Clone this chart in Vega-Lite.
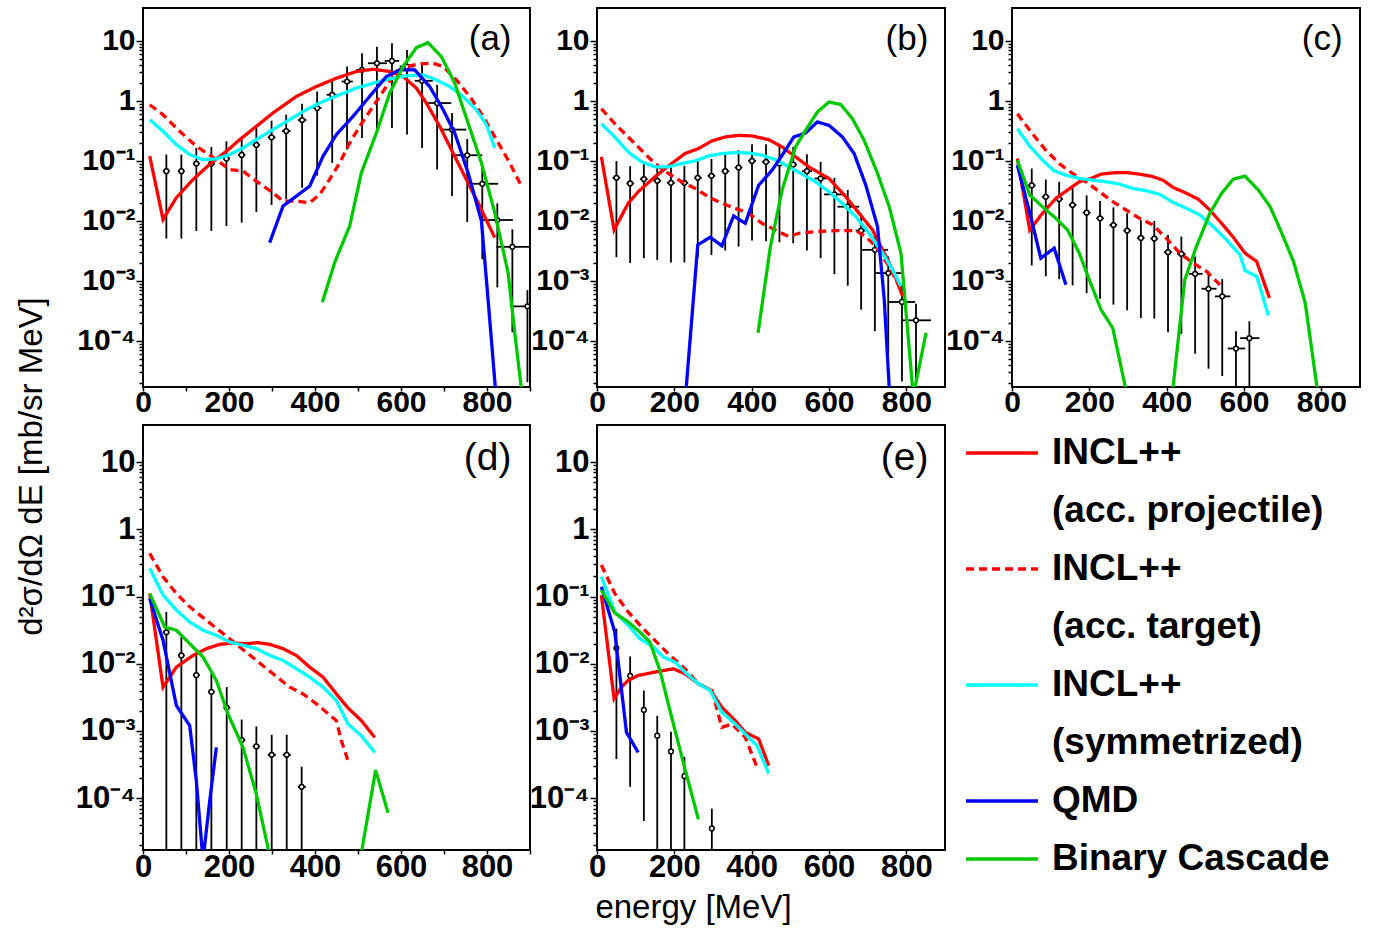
{
"$schema": "https://vega.github.io/schema/vega-lite/v6.json",
"background": "white",
"padding": {"left": 14, "top": 7, "right": 0, "bottom": 0},
"datasets": {
"curves": [
{"panel":"a","model":"INCL++ (acc. projectile)","E":15.6,"v":0.12},{"panel":"a","model":"INCL++ (acc. projectile)","E":46.6,"v":0.0106},{"panel":"a","model":"INCL++ (acc. projectile)","E":77.6,"v":0.0244},{"panel":"a","model":"INCL++ (acc. projectile)","E":116.4,"v":0.0491},{"panel":"a","model":"INCL++ (acc. projectile)","E":159,"v":0.0929},{"panel":"a","model":"INCL++ (acc. projectile)","E":194,"v":0.145},{"panel":"a","model":"INCL++ (acc. projectile)","E":225,"v":0.227},{"panel":"a","model":"INCL++ (acc. projectile)","E":263.6,"v":0.378},{"panel":"a","model":"INCL++ (acc. projectile)","E":302,"v":0.629},{"panel":"a","model":"INCL++ (acc. projectile)","E":356.7,"v":1.19},{"panel":"a","model":"INCL++ (acc. projectile)","E":403,"v":1.74},{"panel":"a","model":"INCL++ (acc. projectile)","E":450,"v":2.4},{"panel":"a","model":"INCL++ (acc. projectile)","E":496,"v":3.1},{"panel":"a","model":"INCL++ (acc. projectile)","E":535,"v":3.38},{"panel":"a","model":"INCL++ (acc. projectile)","E":573.7,"v":3.1},{"panel":"a","model":"INCL++ (acc. projectile)","E":604.7,"v":2.56},{"panel":"a","model":"INCL++ (acc. projectile)","E":635.7,"v":1.64},{"panel":"a","model":"INCL++ (acc. projectile)","E":659,"v":0.922},{"panel":"a","model":"INCL++ (acc. projectile)","E":690,"v":0.378},{"panel":"a","model":"INCL++ (acc. projectile)","E":721,"v":0.136},{"panel":"a","model":"INCL++ (acc. projectile)","E":752,"v":0.0491},{"panel":"a","model":"INCL++ (acc. projectile)","E":783,"v":0.0177},{"panel":"a","model":"INCL++ (acc. projectile)","E":818,"v":0.00527},
{"panel":"a","model":"INCL++ (acc. target)","E":15.6,"v":0.865},{"panel":"a","model":"INCL++ (acc. target)","E":46.6,"v":0.59},{"panel":"a","model":"INCL++ (acc. target)","E":85.3,"v":0.312},{"panel":"a","model":"INCL++ (acc. target)","E":124,"v":0.176},{"panel":"a","model":"INCL++ (acc. target)","E":159,"v":0.12},{"panel":"a","model":"INCL++ (acc. target)","E":201.6,"v":0.072},{"panel":"a","model":"INCL++ (acc. target)","E":232.6,"v":0.0674},{"panel":"a","model":"INCL++ (acc. target)","E":263.6,"v":0.0461},{"panel":"a","model":"INCL++ (acc. target)","E":302,"v":0.0295},{"panel":"a","model":"INCL++ (acc. target)","E":325.7,"v":0.0214},{"panel":"a","model":"INCL++ (acc. target)","E":356.7,"v":0.0214},{"panel":"a","model":"INCL++ (acc. target)","E":387.7,"v":0.0201},{"panel":"a","model":"INCL++ (acc. target)","E":411,"v":0.0277},{"panel":"a","model":"INCL++ (acc. target)","E":434,"v":0.0491},{"panel":"a","model":"INCL++ (acc. target)","E":457.4,"v":0.0929},{"panel":"a","model":"INCL++ (acc. target)","E":480.7,"v":0.1995},{"panel":"a","model":"INCL++ (acc. target)","E":504,"v":0.378},{"panel":"a","model":"INCL++ (acc. target)","E":535,"v":0.811},{"panel":"a","model":"INCL++ (acc. target)","E":566,"v":1.74},{"panel":"a","model":"INCL++ (acc. target)","E":589,"v":3.1},{"panel":"a","model":"INCL++ (acc. target)","E":612.5,"v":3.75},{"panel":"a","model":"INCL++ (acc. target)","E":643.5,"v":4.15},{"panel":"a","model":"INCL++ (acc. target)","E":674.5,"v":4.26},{"panel":"a","model":"INCL++ (acc. target)","E":698,"v":3.75},{"panel":"a","model":"INCL++ (acc. target)","E":728.8,"v":2.25},{"panel":"a","model":"INCL++ (acc. target)","E":759.8,"v":1.19},{"panel":"a","model":"INCL++ (acc. target)","E":790.8,"v":0.553},{"panel":"a","model":"INCL++ (acc. target)","E":821.8,"v":0.227},{"panel":"a","model":"INCL++ (acc. target)","E":852.8,"v":0.0929},{"panel":"a","model":"INCL++ (acc. target)","E":880,"v":0.038},
{"panel":"a","model":"INCL++ (symmetrized)","E":15.6,"v":0.488},{"panel":"a","model":"INCL++ (symmetrized)","E":46.6,"v":0.312},{"panel":"a","model":"INCL++ (symmetrized)","E":77.6,"v":0.187},{"panel":"a","model":"INCL++ (symmetrized)","E":108.6,"v":0.128},{"panel":"a","model":"INCL++ (symmetrized)","E":139.6,"v":0.105},{"panel":"a","model":"INCL++ (symmetrized)","E":170.6,"v":0.108},{"panel":"a","model":"INCL++ (symmetrized)","E":201.6,"v":0.128},{"panel":"a","model":"INCL++ (symmetrized)","E":232.6,"v":0.165},{"panel":"a","model":"INCL++ (symmetrized)","E":263.6,"v":0.227},{"panel":"a","model":"INCL++ (symmetrized)","E":302,"v":0.333},{"panel":"a","model":"INCL++ (symmetrized)","E":341,"v":0.488},{"panel":"a","model":"INCL++ (symmetrized)","E":380,"v":0.715},{"panel":"a","model":"INCL++ (symmetrized)","E":418.7,"v":0.982},{"panel":"a","model":"INCL++ (symmetrized)","E":457.4,"v":1.27},{"panel":"a","model":"INCL++ (symmetrized)","E":496,"v":1.64},{"panel":"a","model":"INCL++ (symmetrized)","E":535,"v":1.98},{"panel":"a","model":"INCL++ (symmetrized)","E":573.7,"v":2.34},{"panel":"a","model":"INCL++ (symmetrized)","E":612.5,"v":2.62},{"panel":"a","model":"INCL++ (symmetrized)","E":651.2,"v":2.72},{"panel":"a","model":"INCL++ (symmetrized)","E":682,"v":2.25},{"panel":"a","model":"INCL++ (symmetrized)","E":713,"v":1.74},{"panel":"a","model":"INCL++ (symmetrized)","E":744,"v":1.19},{"panel":"a","model":"INCL++ (symmetrized)","E":775,"v":0.715},{"panel":"a","model":"INCL++ (symmetrized)","E":798.5,"v":0.403},{"panel":"a","model":"INCL++ (symmetrized)","E":818,"v":0.165},
{"panel":"a","model":"QMD","E":294.6,"v":0.00435},{"panel":"a","model":"QMD","E":325.7,"v":0.0177},{"panel":"a","model":"QMD","E":356.7,"v":0.0259},{"panel":"a","model":"QMD","E":387.7,"v":0.038},{"panel":"a","model":"QMD","E":418.7,"v":0.12},{"panel":"a","model":"QMD","E":449.7,"v":0.275},{"panel":"a","model":"QMD","E":488.4,"v":0.553},{"panel":"a","model":"QMD","E":527,"v":1.19},{"panel":"a","model":"QMD","E":566,"v":2.56},{"panel":"a","model":"QMD","E":597,"v":3.3},{"panel":"a","model":"QMD","E":631.9,"v":3.3},{"panel":"a","model":"QMD","E":666.7,"v":1.74},{"panel":"a","model":"QMD","E":698,"v":0.715},{"panel":"a","model":"QMD","E":725,"v":0.292},{"panel":"a","model":"QMD","E":756,"v":0.0634},{"panel":"a","model":"QMD","E":787,"v":0.00998},{"panel":"a","model":"QMD","E":802.4,"v":0.000499},{"panel":"a","model":"QMD","E":821,"v":0.000012},
{"panel":"a","model":"Binary Cascade","E":417,"v":0.000439},{"panel":"a","model":"Binary Cascade","E":445.8,"v":0.00203},{"panel":"a","model":"Binary Cascade","E":480.7,"v":0.00824},{"panel":"a","model":"Binary Cascade","E":507.8,"v":0.0634},{"panel":"a","model":"Binary Cascade","E":542.7,"v":0.292},{"panel":"a","model":"Binary Cascade","E":573.7,"v":1.35},{"panel":"a","model":"Binary Cascade","E":604.7,"v":3.75},{"panel":"a","model":"Binary Cascade","E":635.7,"v":7.74},{"panel":"a","model":"Binary Cascade","E":662.9,"v":9.38},{"panel":"a","model":"Binary Cascade","E":693.9,"v":5.5},{"panel":"a","model":"Binary Cascade","E":725,"v":1.98},{"panel":"a","model":"Binary Cascade","E":756,"v":0.429},{"panel":"a","model":"Binary Cascade","E":787,"v":0.0929},{"panel":"a","model":"Binary Cascade","E":818,"v":0.0137},{"panel":"a","model":"Binary Cascade","E":849,"v":0.00138},{"panel":"a","model":"Binary Cascade","E":864.4,"v":0.000139},{"panel":"a","model":"Binary Cascade","E":882,"v":0.000012},

{"panel":"b","model":"INCL++ (acc. projectile)","E":11.3,"v":0.117},{"panel":"b","model":"INCL++ (acc. projectile)","E":44.2,"v":0.00706},{"panel":"b","model":"INCL++ (acc. projectile)","E":80.5,"v":0.0196},{"panel":"b","model":"INCL++ (acc. projectile)","E":106.5,"v":0.0306},{"panel":"b","model":"INCL++ (acc. projectile)","E":149.8,"v":0.0543},{"panel":"b","model":"INCL++ (acc. projectile)","E":193.1,"v":0.0906},{"panel":"b","model":"INCL++ (acc. projectile)","E":227.7,"v":0.1328},{"panel":"b","model":"INCL++ (acc. projectile)","E":262.3,"v":0.1607},{"panel":"b","model":"INCL++ (acc. projectile)","E":297,"v":0.2155},{"panel":"b","model":"INCL++ (acc. projectile)","E":331.6,"v":0.251},{"panel":"b","model":"INCL++ (acc. projectile)","E":366.2,"v":0.267},{"panel":"b","model":"INCL++ (acc. projectile)","E":400.9,"v":0.261},{"panel":"b","model":"INCL++ (acc. projectile)","E":444.2,"v":0.2265},{"panel":"b","model":"INCL++ (acc. projectile)","E":478.8,"v":0.1713},{"panel":"b","model":"INCL++ (acc. projectile)","E":513.4,"v":0.117},{"panel":"b","model":"INCL++ (acc. projectile)","E":548,"v":0.0796},{"panel":"b","model":"INCL++ (acc. projectile)","E":600,"v":0.051},{"panel":"b","model":"INCL++ (acc. projectile)","E":643.3,"v":0.0253},{"panel":"b","model":"INCL++ (acc. projectile)","E":677.9,"v":0.01337},{"panel":"b","model":"INCL++ (acc. projectile)","E":712.6,"v":0.00706},{"panel":"b","model":"INCL++ (acc. projectile)","E":738.5,"v":0.00329},{"panel":"b","model":"INCL++ (acc. projectile)","E":764.5,"v":0.00153},{"panel":"b","model":"INCL++ (acc. projectile)","E":790.5,"v":0.000552},
{"panel":"b","model":"INCL++ (acc. target)","E":11.3,"v":0.742},{"panel":"b","model":"INCL++ (acc. target)","E":45.9,"v":0.418},{"panel":"b","model":"INCL++ (acc. target)","E":80.5,"v":0.251},{"panel":"b","model":"INCL++ (acc. target)","E":115.2,"v":0.1507},{"panel":"b","model":"INCL++ (acc. target)","E":149.8,"v":0.0906},{"panel":"b","model":"INCL++ (acc. target)","E":184.4,"v":0.0618},{"panel":"b","model":"INCL++ (acc. target)","E":219,"v":0.0449},{"panel":"b","model":"INCL++ (acc. target)","E":253.7,"v":0.0348},{"panel":"b","model":"INCL++ (acc. target)","E":288.3,"v":0.0253},{"panel":"b","model":"INCL++ (acc. target)","E":323,"v":0.0196},{"panel":"b","model":"INCL++ (acc. target)","E":357.6,"v":0.0162},{"panel":"b","model":"INCL++ (acc. target)","E":392.2,"v":0.01337},{"panel":"b","model":"INCL++ (acc. target)","E":426.8,"v":0.00912},{"panel":"b","model":"INCL++ (acc. target)","E":461.5,"v":0.00706},{"panel":"b","model":"INCL++ (acc. target)","E":496,"v":0.00548},{"panel":"b","model":"INCL++ (acc. target)","E":522,"v":0.00622},{"panel":"b","model":"INCL++ (acc. target)","E":565.4,"v":0.00664},{"panel":"b","model":"INCL++ (acc. target)","E":617.3,"v":0.00689},{"panel":"b","model":"INCL++ (acc. target)","E":669.3,"v":0.00689},{"panel":"b","model":"INCL++ (acc. target)","E":695.2,"v":0.00548},{"panel":"b","model":"INCL++ (acc. target)","E":721.2,"v":0.00374},{"panel":"b","model":"INCL++ (acc. target)","E":755.8,"v":0.00174},{"panel":"b","model":"INCL++ (acc. target)","E":786.1,"v":0.000713},
{"panel":"b","model":"INCL++ (symmetrized)","E":11.3,"v":0.418},{"panel":"b","model":"INCL++ (symmetrized)","E":45.9,"v":0.251},{"panel":"b","model":"INCL++ (symmetrized)","E":80.5,"v":0.1416},{"panel":"b","model":"INCL++ (symmetrized)","E":115.2,"v":0.0965},{"panel":"b","model":"INCL++ (symmetrized)","E":149.8,"v":0.0796},{"panel":"b","model":"INCL++ (symmetrized)","E":184.4,"v":0.0796},{"panel":"b","model":"INCL++ (symmetrized)","E":219,"v":0.0906},{"panel":"b","model":"INCL++ (symmetrized)","E":253.7,"v":0.1002},{"panel":"b","model":"INCL++ (symmetrized)","E":288.3,"v":0.1213},{"panel":"b","model":"INCL++ (symmetrized)","E":323,"v":0.1328},{"panel":"b","model":"INCL++ (symmetrized)","E":357.6,"v":0.138},{"panel":"b","model":"INCL++ (symmetrized)","E":392.2,"v":0.136},{"panel":"b","model":"INCL++ (symmetrized)","E":426.8,"v":0.1245},{"panel":"b","model":"INCL++ (symmetrized)","E":461.5,"v":0.1054},{"panel":"b","model":"INCL++ (symmetrized)","E":496,"v":0.0796},{"panel":"b","model":"INCL++ (symmetrized)","E":530.7,"v":0.0602},{"panel":"b","model":"INCL++ (symmetrized)","E":565.4,"v":0.0449},{"panel":"b","model":"INCL++ (symmetrized)","E":600,"v":0.0306},{"panel":"b","model":"INCL++ (symmetrized)","E":634.6,"v":0.0196},{"panel":"b","model":"INCL++ (symmetrized)","E":669.3,"v":0.01178},{"panel":"b","model":"INCL++ (symmetrized)","E":703.9,"v":0.00622},{"panel":"b","model":"INCL++ (symmetrized)","E":738.5,"v":0.0029},{"panel":"b","model":"INCL++ (symmetrized)","E":764.5,"v":0.00153},{"panel":"b","model":"INCL++ (symmetrized)","E":786.1,"v":0.00081},
{"panel":"b","model":"QMD","E":229,"v":0.000012},{"panel":"b","model":"QMD","E":260.6,"v":0.00398},{"panel":"b","model":"QMD","E":292.6,"v":0.00534},{"panel":"b","model":"QMD","E":323,"v":0.00384},{"panel":"b","model":"QMD","E":353.2,"v":0.0121},{"panel":"b","model":"QMD","E":383.5,"v":0.00912},{"panel":"b","model":"QMD","E":418.2,"v":0.0395},{"panel":"b","model":"QMD","E":452.8,"v":0.0701},{"panel":"b","model":"QMD","E":478.8,"v":0.1245},{"panel":"b","model":"QMD","E":509,"v":0.251},{"panel":"b","model":"QMD","E":539.4,"v":0.292},{"panel":"b","model":"QMD","E":569.7,"v":0.446},{"panel":"b","model":"QMD","E":600,"v":0.393},{"panel":"b","model":"QMD","E":634.6,"v":0.251},{"panel":"b","model":"QMD","E":665,"v":0.1328},{"panel":"b","model":"QMD","E":695.2,"v":0.0395},{"panel":"b","model":"QMD","E":725.5,"v":0.00804},{"panel":"b","model":"QMD","E":742.9,"v":0.000486},{"panel":"b","model":"QMD","E":757,"v":0.000012},
{"panel":"b","model":"Binary Cascade","E":416.5,"v":0.000136},{"panel":"b","model":"Binary Cascade","E":448.5,"v":0.00374},{"panel":"b","model":"Binary Cascade","E":478.8,"v":0.0327},{"panel":"b","model":"Binary Cascade","E":513.4,"v":0.1713},{"panel":"b","model":"Binary Cascade","E":539.4,"v":0.3236},{"panel":"b","model":"Binary Cascade","E":569.7,"v":0.653},{"panel":"b","model":"Binary Cascade","E":600,"v":0.958},{"panel":"b","model":"Binary Cascade","E":630.3,"v":0.876},{"panel":"b","model":"Binary Cascade","E":660.6,"v":0.506},{"panel":"b","model":"Binary Cascade","E":690.9,"v":0.221},{"panel":"b","model":"Binary Cascade","E":725.5,"v":0.0618},{"panel":"b","model":"Binary Cascade","E":755.8,"v":0.01725},{"panel":"b","model":"Binary Cascade","E":786.1,"v":0.0029},{"panel":"b","model":"Binary Cascade","E":818,"v":0.000012},{"panel":"b","model":"Binary Cascade","E":851,"v":0.000136},

{"panel":"c","model":"INCL++ (acc. projectile)","E":13.9,"v":0.1096},{"panel":"c","model":"INCL++ (acc. projectile)","E":45.9,"v":0.00706},{"panel":"c","model":"INCL++ (acc. projectile)","E":78.8,"v":0.01337},{"panel":"c","model":"INCL++ (acc. projectile)","E":113.4,"v":0.0237},{"panel":"c","model":"INCL++ (acc. projectile)","E":143.7,"v":0.0327},{"panel":"c","model":"INCL++ (acc. projectile)","E":174,"v":0.0449},{"panel":"c","model":"INCL++ (acc. projectile)","E":204.3,"v":0.051},{"panel":"c","model":"INCL++ (acc. projectile)","E":230.3,"v":0.0602},{"panel":"c","model":"INCL++ (acc. projectile)","E":260.6,"v":0.0634},{"panel":"c","model":"INCL++ (acc. projectile)","E":295.2,"v":0.0642},{"panel":"c","model":"INCL++ (acc. projectile)","E":329.9,"v":0.0602},{"panel":"c","model":"INCL++ (acc. projectile)","E":360.2,"v":0.0557},{"panel":"c","model":"INCL++ (acc. projectile)","E":390.5,"v":0.0479},{"panel":"c","model":"INCL++ (acc. projectile)","E":416.5,"v":0.0362},{"panel":"c","model":"INCL++ (acc. projectile)","E":446.8,"v":0.0298},{"panel":"c","model":"INCL++ (acc. projectile)","E":481.4,"v":0.0231},{"panel":"c","model":"INCL++ (acc. projectile)","E":511.7,"v":0.0152},{"panel":"c","model":"INCL++ (acc. projectile)","E":542,"v":0.00912},{"panel":"c","model":"INCL++ (acc. projectile)","E":572.3,"v":0.00534},{"panel":"c","model":"INCL++ (acc. projectile)","E":602.6,"v":0.0029},{"panel":"c","model":"INCL++ (acc. projectile)","E":632.9,"v":0.0021},{"panel":"c","model":"INCL++ (acc. projectile)","E":665.8,"v":0.000518},
{"panel":"c","model":"INCL++ (acc. target)","E":13.9,"v":0.612},{"panel":"c","model":"INCL++ (acc. target)","E":52.8,"v":0.285},{"panel":"c","model":"INCL++ (acc. target)","E":87.4,"v":0.1507},{"panel":"c","model":"INCL++ (acc. target)","E":122,"v":0.0906},{"panel":"c","model":"INCL++ (acc. target)","E":156.7,"v":0.0618},{"panel":"c","model":"INCL++ (acc. target)","E":191.3,"v":0.0449},{"panel":"c","model":"INCL++ (acc. target)","E":226,"v":0.0306},{"panel":"c","model":"INCL++ (acc. target)","E":260.6,"v":0.0209},{"panel":"c","model":"INCL++ (acc. target)","E":295.2,"v":0.0152},{"panel":"c","model":"INCL++ (acc. target)","E":329.9,"v":0.01104},{"panel":"c","model":"INCL++ (acc. target)","E":364.5,"v":0.00855},{"panel":"c","model":"INCL++ (acc. target)","E":399.1,"v":0.00514},{"panel":"c","model":"INCL++ (acc. target)","E":433.8,"v":0.0029},{"panel":"c","model":"INCL++ (acc. target)","E":468.4,"v":0.00198},{"panel":"c","model":"INCL++ (acc. target)","E":503,"v":0.00144},{"panel":"c","model":"INCL++ (acc. target)","E":537.7,"v":0.000863},
{"panel":"c","model":"INCL++ (symmetrized)","E":13.9,"v":0.345},{"panel":"c","model":"INCL++ (symmetrized)","E":44.2,"v":0.1824},{"panel":"c","model":"INCL++ (symmetrized)","E":78.8,"v":0.1028},{"panel":"c","model":"INCL++ (symmetrized)","E":109.1,"v":0.0684},{"panel":"c","model":"INCL++ (symmetrized)","E":139.4,"v":0.0579},{"panel":"c","model":"INCL++ (symmetrized)","E":174,"v":0.051},{"panel":"c","model":"INCL++ (symmetrized)","E":208.7,"v":0.0479},{"panel":"c","model":"INCL++ (symmetrized)","E":243.3,"v":0.0449},{"panel":"c","model":"INCL++ (symmetrized)","E":277.9,"v":0.0411},{"panel":"c","model":"INCL++ (symmetrized)","E":312.6,"v":0.0348},{"panel":"c","model":"INCL++ (symmetrized)","E":347.2,"v":0.0318},{"panel":"c","model":"INCL++ (symmetrized)","E":381.8,"v":0.0277},{"panel":"c","model":"INCL++ (symmetrized)","E":416.5,"v":0.0204},{"panel":"c","model":"INCL++ (symmetrized)","E":451.1,"v":0.0162},{"panel":"c","model":"INCL++ (symmetrized)","E":485.7,"v":0.01256},{"panel":"c","model":"INCL++ (symmetrized)","E":520.3,"v":0.00804},{"panel":"c","model":"INCL++ (symmetrized)","E":555,"v":0.00482},{"panel":"c","model":"INCL++ (symmetrized)","E":589.6,"v":0.00272},{"panel":"c","model":"INCL++ (symmetrized)","E":602.6,"v":0.00149},{"panel":"c","model":"INCL++ (symmetrized)","E":632.9,"v":0.00119},{"panel":"c","model":"INCL++ (symmetrized)","E":663.2,"v":0.000264},
{"panel":"c","model":"QMD","E":13.9,"v":0.0849},{"panel":"c","model":"QMD","E":48.5,"v":0.01178},{"panel":"c","model":"QMD","E":74.5,"v":0.00239},{"panel":"c","model":"QMD","E":109.1,"v":0.00351},{"panel":"c","model":"QMD","E":139.4,"v":0.000863},
{"panel":"c","model":"Binary Cascade","E":13.9,"v":0.1028},{"panel":"c","model":"Binary Cascade","E":45.9,"v":0.027},{"panel":"c","model":"Binary Cascade","E":78.8,"v":0.01725},{"panel":"c","model":"Binary Cascade","E":113.4,"v":0.01104},{"panel":"c","model":"Binary Cascade","E":143.7,"v":0.00706},{"panel":"c","model":"Binary Cascade","E":174,"v":0.0029},{"panel":"c","model":"Binary Cascade","E":200,"v":0.00104},{"panel":"c","model":"Binary Cascade","E":230.3,"v":0.000331},{"panel":"c","model":"Binary Cascade","E":260.6,"v":0.000164},{"panel":"c","model":"Binary Cascade","E":298,"v":0.000012},{"panel":"c","model":"Binary Cascade","E":414,"v":0.000012},{"panel":"c","model":"Binary Cascade","E":446.8,"v":0.00104},{"panel":"c","model":"Binary Cascade","E":477,"v":0.00374},{"panel":"c","model":"Binary Cascade","E":511.7,"v":0.01337},{"panel":"c","model":"Binary Cascade","E":542,"v":0.0288},{"panel":"c","model":"Binary Cascade","E":572.3,"v":0.0498},{"panel":"c","model":"Binary Cascade","E":602.6,"v":0.0557},{"panel":"c","model":"Binary Cascade","E":637.2,"v":0.0327},{"panel":"c","model":"Binary Cascade","E":667.5,"v":0.01725},{"panel":"c","model":"Binary Cascade","E":697.8,"v":0.00622},{"panel":"c","model":"Binary Cascade","E":728.1,"v":0.0021},{"panel":"c","model":"Binary Cascade","E":758.4,"v":0.000428},{"panel":"c","model":"Binary Cascade","E":792,"v":0.000012},

{"panel":"d","model":"INCL++ (acc. projectile)","E":15.6,"v":0.111},{"panel":"d","model":"INCL++ (acc. projectile)","E":46.6,"v":0.00449},{"panel":"d","model":"INCL++ (acc. projectile)","E":77.6,"v":0.00891},{"panel":"d","model":"INCL++ (acc. projectile)","E":116.4,"v":0.0133},{"panel":"d","model":"INCL++ (acc. projectile)","E":147.4,"v":0.01675},{"panel":"d","model":"INCL++ (acc. projectile)","E":178.4,"v":0.01944},{"panel":"d","model":"INCL++ (acc. projectile)","E":209.4,"v":0.0203},{"panel":"d","model":"INCL++ (acc. projectile)","E":240.4,"v":0.0199},{"panel":"d","model":"INCL++ (acc. projectile)","E":267.5,"v":0.0206},{"panel":"d","model":"INCL++ (acc. projectile)","E":294.6,"v":0.01944},{"panel":"d","model":"INCL++ (acc. projectile)","E":325.7,"v":0.01675},{"panel":"d","model":"INCL++ (acc. projectile)","E":356.7,"v":0.0133},{"panel":"d","model":"INCL++ (acc. projectile)","E":387.7,"v":0.00891},{"panel":"d","model":"INCL++ (acc. projectile)","E":418.7,"v":0.00632},{"panel":"d","model":"INCL++ (acc. projectile)","E":449.7,"v":0.00356},{"panel":"d","model":"INCL++ (acc. projectile)","E":476.8,"v":0.0022},{"panel":"d","model":"INCL++ (acc. projectile)","E":507.8,"v":0.00143},{"panel":"d","model":"INCL++ (acc. projectile)","E":538.8,"v":0.000803},
{"panel":"d","model":"INCL++ (acc. target)","E":15.6,"v":0.438},{"panel":"d","model":"INCL++ (acc. target)","E":46.6,"v":0.1968},{"panel":"d","model":"INCL++ (acc. target)","E":77.6,"v":0.111},{"panel":"d","model":"INCL++ (acc. target)","E":108.6,"v":0.0701},{"panel":"d","model":"INCL++ (acc. target)","E":147.4,"v":0.0444},{"panel":"d","model":"INCL++ (acc. target)","E":186.1,"v":0.0281},{"panel":"d","model":"INCL++ (acc. target)","E":224.9,"v":0.01775},{"panel":"d","model":"INCL++ (acc. target)","E":263.6,"v":0.01122},{"panel":"d","model":"INCL++ (acc. target)","E":302.4,"v":0.0071},{"panel":"d","model":"INCL++ (acc. target)","E":341.1,"v":0.00449},{"panel":"d","model":"INCL++ (acc. target)","E":372.1,"v":0.00356},{"panel":"d","model":"INCL++ (acc. target)","E":403.2,"v":0.00253},{"panel":"d","model":"INCL++ (acc. target)","E":426.4,"v":0.0019},{"panel":"d","model":"INCL++ (acc. target)","E":449.7,"v":0.00143},{"panel":"d","model":"INCL++ (acc. target)","E":461.3,"v":0.000718},{"panel":"d","model":"INCL++ (acc. target)","E":476.8,"v":0.00036},
{"panel":"d","model":"INCL++ (symmetrized)","E":15.6,"v":0.262},{"panel":"d","model":"INCL++ (symmetrized)","E":46.6,"v":0.1047},{"panel":"d","model":"INCL++ (symmetrized)","E":77.6,"v":0.0625},{"panel":"d","model":"INCL++ (symmetrized)","E":108.6,"v":0.0419},{"panel":"d","model":"INCL++ (symmetrized)","E":139.6,"v":0.0315},{"panel":"d","model":"INCL++ (symmetrized)","E":170.6,"v":0.0265},{"panel":"d","model":"INCL++ (symmetrized)","E":201.6,"v":0.02106},{"panel":"d","model":"INCL++ (symmetrized)","E":232.6,"v":0.0188},{"panel":"d","model":"INCL++ (symmetrized)","E":263.6,"v":0.01675},{"panel":"d","model":"INCL++ (symmetrized)","E":294.6,"v":0.0133},{"panel":"d","model":"INCL++ (symmetrized)","E":325.7,"v":0.01122},{"panel":"d","model":"INCL++ (symmetrized)","E":356.7,"v":0.00841},{"panel":"d","model":"INCL++ (symmetrized)","E":387.7,"v":0.00632},{"panel":"d","model":"INCL++ (symmetrized)","E":418.7,"v":0.00449},{"panel":"d","model":"INCL++ (symmetrized)","E":449.7,"v":0.00284},{"panel":"d","model":"INCL++ (symmetrized)","E":476.8,"v":0.00127},{"panel":"d","model":"INCL++ (symmetrized)","E":507.8,"v":0.000851},{"panel":"d","model":"INCL++ (symmetrized)","E":538.8,"v":0.00048},
{"panel":"d","model":"QMD","E":15.6,"v":0.0933},{"panel":"d","model":"QMD","E":46.6,"v":0.0223},{"panel":"d","model":"QMD","E":77.6,"v":0.00239},{"panel":"d","model":"QMD","E":108.6,"v":0.0012},{"panel":"d","model":"QMD","E":124,"v":0.000182},{"panel":"d","model":"QMD","E":139.6,"v":0.000012},{"panel":"d","model":"QMD","E":155.1,"v":0.000091},{"panel":"d","model":"QMD","E":170.6,"v":0.00057},
{"panel":"d","model":"Binary Cascade","E":15.6,"v":0.111},{"panel":"d","model":"Binary Cascade","E":50.5,"v":0.0352},{"panel":"d","model":"Binary Cascade","E":77.6,"v":0.0315},{"panel":"d","model":"Binary Cascade","E":108.6,"v":0.0199},{"panel":"d","model":"Binary Cascade","E":139.6,"v":0.0126},{"panel":"d","model":"Binary Cascade","E":170.6,"v":0.00564},{"panel":"d","model":"Binary Cascade","E":197.7,"v":0.00179},{"panel":"d","model":"Binary Cascade","E":232.6,"v":0.00057},{"panel":"d","model":"Binary Cascade","E":263.6,"v":0.000115},{"panel":"d","model":"Binary Cascade","E":297,"v":0.000012},{"panel":"d","model":"Binary Cascade","E":505,"v":0.000012},{"panel":"d","model":"Binary Cascade","E":541,"v":0.000262},{"panel":"d","model":"Binary Cascade","E":569.8,"v":0.000061},

{"panel":"e","model":"INCL++ (acc. projectile)","E":11.3,"v":0.1047},{"panel":"e","model":"INCL++ (acc. projectile)","E":44.2,"v":0.00301},{"panel":"e","model":"INCL++ (acc. projectile)","E":63.2,"v":0.00449},{"panel":"e","model":"INCL++ (acc. projectile)","E":80.5,"v":0.00564},{"panel":"e","model":"INCL++ (acc. projectile)","E":106.5,"v":0.0067},{"panel":"e","model":"INCL++ (acc. projectile)","E":149.8,"v":0.00752},{"panel":"e","model":"INCL++ (acc. projectile)","E":197.4,"v":0.00841},{"panel":"e","model":"INCL++ (acc. projectile)","E":227.7,"v":0.0071},{"panel":"e","model":"INCL++ (acc. projectile)","E":262.3,"v":0.00503},{"panel":"e","model":"INCL++ (acc. projectile)","E":292.6,"v":0.00409},{"panel":"e","model":"INCL++ (acc. projectile)","E":323,"v":0.00225},{"panel":"e","model":"INCL++ (acc. projectile)","E":357.6,"v":0.00143},{"panel":"e","model":"INCL++ (acc. projectile)","E":383.5,"v":0.000955},{"panel":"e","model":"INCL++ (acc. projectile)","E":418.2,"v":0.00076},{"panel":"e","model":"INCL++ (acc. projectile)","E":444.2,"v":0.000304},
{"panel":"e","model":"INCL++ (acc. target)","E":11.3,"v":0.294},{"panel":"e","model":"INCL++ (acc. target)","E":45.9,"v":0.111},{"panel":"e","model":"INCL++ (acc. target)","E":80.5,"v":0.059},{"panel":"e","model":"INCL++ (acc. target)","E":115.2,"v":0.0352},{"panel":"e","model":"INCL++ (acc. target)","E":149.8,"v":0.0223},{"panel":"e","model":"INCL++ (acc. target)","E":184.4,"v":0.0141},{"panel":"e","model":"INCL++ (acc. target)","E":227.7,"v":0.00841},{"panel":"e","model":"INCL++ (acc. target)","E":262.3,"v":0.00503},{"panel":"e","model":"INCL++ (acc. target)","E":297,"v":0.004},{"panel":"e","model":"INCL++ (acc. target)","E":323,"v":0.00113},{"panel":"e","model":"INCL++ (acc. target)","E":349,"v":0.00127},{"panel":"e","model":"INCL++ (acc. target)","E":383.5,"v":0.000803},{"panel":"e","model":"INCL++ (acc. target)","E":413.9,"v":0.000287},
{"panel":"e","model":"INCL++ (symmetrized)","E":11.3,"v":0.1968},{"panel":"e","model":"INCL++ (symmetrized)","E":45.9,"v":0.059},{"panel":"e","model":"INCL++ (symmetrized)","E":80.5,"v":0.0373},{"panel":"e","model":"INCL++ (symmetrized)","E":110.8,"v":0.0236},{"panel":"e","model":"INCL++ (symmetrized)","E":145.5,"v":0.01775},{"panel":"e","model":"INCL++ (symmetrized)","E":171.4,"v":0.0126},{"panel":"e","model":"INCL++ (symmetrized)","E":201.7,"v":0.0106},{"panel":"e","model":"INCL++ (symmetrized)","E":232,"v":0.0071},{"panel":"e","model":"INCL++ (symmetrized)","E":262.3,"v":0.00503},{"panel":"e","model":"INCL++ (symmetrized)","E":292.6,"v":0.004},{"panel":"e","model":"INCL++ (symmetrized)","E":323,"v":0.0019},{"panel":"e","model":"INCL++ (symmetrized)","E":357.6,"v":0.00127},{"panel":"e","model":"INCL++ (symmetrized)","E":383.5,"v":0.000902},{"panel":"e","model":"INCL++ (symmetrized)","E":413.9,"v":0.000604},{"panel":"e","model":"INCL++ (symmetrized)","E":444.2,"v":0.000233},
{"panel":"e","model":"QMD","E":11.3,"v":0.1393},{"panel":"e","model":"QMD","E":45.9,"v":0.0297},{"panel":"e","model":"QMD","E":76.2,"v":0.000955},{"panel":"e","model":"QMD","E":106.5,"v":0.00048},
{"panel":"e","model":"Binary Cascade","E":11.3,"v":0.1245},{"panel":"e","model":"Binary Cascade","E":45.9,"v":0.057},{"panel":"e","model":"Binary Cascade","E":80.5,"v":0.0419},{"panel":"e","model":"Binary Cascade","E":110.8,"v":0.0297},{"panel":"e","model":"Binary Cascade","E":136.8,"v":0.02106},{"panel":"e","model":"Binary Cascade","E":162.8,"v":0.00794},{"panel":"e","model":"Binary Cascade","E":193.1,"v":0.0016},{"panel":"e","model":"Binary Cascade","E":227.7,"v":0.000271},{"panel":"e","model":"Binary Cascade","E":262.3,"v":0.0000486}
],
"points": [
{"panel":"a","E":54.3,"v":0.0674,"lo":0.00507,"hi":0.1276,"xlo":46,"xhi":62},{"panel":"a","E":89.2,"v":0.0674,"lo":0.00507,"hi":0.1276,"xlo":81,"xhi":97},{"panel":"a","E":124,"v":0.0906,"lo":0.0068,"hi":0.165,"xlo":116,"xhi":132},{"panel":"a","E":159,"v":0.0906,"lo":0.0068,"hi":0.171,"xlo":151,"xhi":167},{"panel":"a","E":194,"v":0.1096,"lo":0.00824,"hi":0.213,"xlo":186,"xhi":202},{"panel":"a","E":229.5,"v":0.126,"lo":0.00936,"hi":0.242,"xlo":221,"xhi":238},{"panel":"a","E":263.6,"v":0.185,"lo":0.01406,"hi":0.354,"xlo":255,"xhi":272},{"panel":"a","E":299,"v":0.248,"lo":0.0184,"hi":0.469,"xlo":290,"xhi":308},{"panel":"a","E":333,"v":0.315,"lo":0.0229,"hi":0.59,"xlo":323,"xhi":343},{"panel":"a","E":370,"v":0.481,"lo":0.0357,"hi":0.898,"xlo":360,"xhi":380},{"panel":"a","E":405,"v":0.762,"lo":0.0571,"hi":1.44,"xlo":395,"xhi":415},{"panel":"a","E":440,"v":1.27,"lo":0.0929,"hi":2.25,"xlo":427,"xhi":456},{"panel":"a","E":474.5,"v":2.11,"lo":0.1545,"hi":3.75,"xlo":462,"xhi":488},{"panel":"a","E":509.4,"v":3.3,"lo":0.242,"hi":6.24,"xlo":496,"xhi":523},{"panel":"a","E":544,"v":4.26,"lo":0.292,"hi":8.05,"xlo":523,"xhi":567},{"panel":"a","E":579,"v":4.66,"lo":0.354,"hi":9.15,"xlo":562,"xhi":596},{"panel":"a","E":614,"v":3.75,"lo":0.275,"hi":7.08,"xlo":597,"xhi":631},{"panel":"a","E":649,"v":2.17,"lo":0.165,"hi":3.99,"xlo":632,"xhi":674},{"panel":"a","E":684,"v":0.923,"lo":0.072,"hi":1.86,"xlo":663,"xhi":717},{"panel":"a","E":718.7,"v":0.333,"lo":0.0259,"hi":0.628,"xlo":694,"xhi":752},{"panel":"a","E":754,"v":0.1245,"lo":0.0096,"hi":0.233,"xlo":721,"xhi":789},{"panel":"a","E":789,"v":0.0416,"lo":0.0023,"hi":0.0818,"xlo":756,"xhi":826},{"panel":"a","E":824,"v":0.01035,"lo":0.000778,"hi":0.0196,"xlo":791,"xhi":860},{"panel":"a","E":859,"v":0.00369,"lo":0.000139,"hi":0.00724,"xlo":822,"xhi":900},{"panel":"a","E":894,"v":0.000377,"lo":0.0000205,"hi":0.000703,"xlo":853,"xhi":935},
{"panel":"b","E":50.2,"v":0.0524,"lo":0.00248,"hi":0.0991,"xlo":40,"xhi":60},{"panel":"b","E":85.7,"v":0.0422,"lo":0.00198,"hi":0.0818,"xlo":76,"xhi":96},{"panel":"b","E":121.2,"v":0.0498,"lo":0.00239,"hi":0.0965,"xlo":111,"xhi":131},{"panel":"b","E":155.8,"v":0.0467,"lo":0.00224,"hi":0.0906,"xlo":146,"xhi":166},{"panel":"b","E":191.3,"v":0.0432,"lo":0.00203,"hi":0.0828,"xlo":181,"xhi":201},{"panel":"b","E":226,"v":0.0432,"lo":0.00203,"hi":0.0828,"xlo":216,"xhi":236},{"panel":"b","E":260.6,"v":0.0524,"lo":0.00248,"hi":0.1002,"xlo":251,"xhi":271},{"panel":"b","E":296,"v":0.0565,"lo":0.00269,"hi":0.108,"xlo":286,"xhi":306},{"panel":"b","E":331.6,"v":0.0675,"lo":0.00321,"hi":0.1277,"xlo":322,"xhi":342},{"panel":"b","E":366.2,"v":0.0776,"lo":0.00374,"hi":0.1507,"xlo":356,"xhi":376},{"panel":"b","E":400.9,"v":0.1002,"lo":0.0047,"hi":0.19,"xlo":391,"xhi":411},{"panel":"b","E":437.2,"v":0.0965,"lo":0.00458,"hi":0.19,"xlo":427,"xhi":447},{"panel":"b","E":471.9,"v":0.0906,"lo":0.00441,"hi":0.178,"xlo":462,"xhi":482},{"panel":"b","E":507.4,"v":0.0871,"lo":0.00425,"hi":0.1713,"xlo":497,"xhi":517},{"panel":"b","E":542.9,"v":0.0675,"lo":0.00321,"hi":0.1294,"xlo":530,"xhi":556},{"panel":"b","E":578.4,"v":0.051,"lo":0.00239,"hi":0.0965,"xlo":563,"xhi":594},{"panel":"b","E":613.9,"v":0.0277,"lo":0.0013,"hi":0.0524,"xlo":587,"xhi":643},{"panel":"b","E":648.5,"v":0.01725,"lo":0.00083,"hi":0.0327,"xlo":622,"xhi":678},{"panel":"b","E":683.1,"v":0.00689,"lo":0.000331,"hi":0.01337,"xlo":669,"xhi":700},{"panel":"b","E":718.6,"v":0.00329,"lo":0.000145,"hi":0.00638,"xlo":685,"xhi":753},{"panel":"b","E":753.2,"v":0.00135,"lo":0.000063,"hi":0.00255,"xlo":719,"xhi":786},{"panel":"b","E":788.7,"v":0.000445,"lo":0.000021,"hi":0.000863,"xlo":753,"xhi":823},{"panel":"b","E":825,"v":0.00022,"lo":0.000001,"hi":0.000417,"xlo":786,"xhi":864},
{"panel":"c","E":51.1,"v":0.039,"lo":0.00181,"hi":0.0748,"xlo":41,"xhi":61},{"panel":"c","E":87.4,"v":0.0253,"lo":0.00119,"hi":0.0491,"xlo":77,"xhi":97},{"panel":"c","E":122,"v":0.0231,"lo":0.00107,"hi":0.0449,"xlo":112,"xhi":132},{"panel":"c","E":156.7,"v":0.0184,"lo":0.000841,"hi":0.0357,"xlo":147,"xhi":167},{"panel":"c","E":193,"v":0.0137,"lo":0.000627,"hi":0.0266,"xlo":183,"xhi":203},{"panel":"c","E":227.7,"v":0.01104,"lo":0.000505,"hi":0.0214,"xlo":218,"xhi":238},{"panel":"c","E":262.3,"v":0.00855,"lo":0.000402,"hi":0.01683,"xlo":252,"xhi":272},{"panel":"c","E":297.8,"v":0.00689,"lo":0.000323,"hi":0.01337,"xlo":288,"xhi":308},{"panel":"c","E":333.3,"v":0.00521,"lo":0.000241,"hi":0.01036,"xlo":323,"xhi":343},{"panel":"c","E":368,"v":0.00507,"lo":0.000235,"hi":0.00997,"xlo":358,"xhi":378},{"panel":"c","E":403.5,"v":0.00301,"lo":0.000139,"hi":0.00583,"xlo":393,"xhi":414},{"panel":"c","E":438,"v":0.00282,"lo":0.000131,"hi":0.00548,"xlo":427,"xhi":449},{"panel":"c","E":473.6,"v":0.00131,"lo":0.000061,"hi":0.00255,"xlo":458,"xhi":493},{"panel":"c","E":508.2,"v":0.00074,"lo":0.0000343,"hi":0.00144,"xlo":490,"xhi":529},{"panel":"c","E":543.7,"v":0.000552,"lo":0.0000259,"hi":0.00107,"xlo":525,"xhi":565},{"panel":"c","E":579.2,"v":0.0000746,"lo":0.000001,"hi":0.000145,"xlo":558,"xhi":603},{"panel":"c","E":613.9,"v":0.000111,"lo":0.000001,"hi":0.000212,"xlo":590,"xhi":640},
{"panel":"d","E":54.3,"v":0.0294,"lo":0.000001,"hi":0.059,"xlo":46,"xhi":62},{"panel":"d","E":89.2,"v":0.0133,"lo":0.000001,"hi":0.025,"xlo":81,"xhi":97},{"panel":"d","E":124,"v":0.00677,"lo":0.000001,"hi":0.0141,"xlo":116,"xhi":132},{"panel":"d","E":159,"v":0.00382,"lo":0.000001,"hi":0.0071,"xlo":151,"xhi":167},{"panel":"d","E":194.7,"v":0.00223,"lo":0.000001,"hi":0.00449,"xlo":187,"xhi":203},{"panel":"d","E":229.5,"v":0.000734,"lo":0.000001,"hi":0.00148,"xlo":221,"xhi":238},{"panel":"d","E":263.6,"v":0.00059,"lo":0.000001,"hi":0.00117,"xlo":255,"xhi":272},{"panel":"d","E":299.3,"v":0.000443,"lo":0.000001,"hi":0.00088,"xlo":290,"xhi":309},{"panel":"d","E":334.2,"v":0.000443,"lo":0.000001,"hi":0.00088,"xlo":325,"xhi":344},{"panel":"d","E":369,"v":0.000148,"lo":0.000001,"hi":0.000294,"xlo":360,"xhi":379},
{"panel":"e","E":50.2,"v":0.01714,"lo":0.000382,"hi":0.0333,"xlo":45,"xhi":55},{"panel":"e","E":85.7,"v":0.00662,"lo":0.000148,"hi":0.01285,"xlo":81,"xhi":91},{"panel":"e","E":121.2,"v":0.00206,"lo":0.0000459,"hi":0.004,"xlo":116,"xhi":126},{"panel":"e","E":155.8,"v":0.000851,"lo":0.000001,"hi":0.00168,"xlo":151,"xhi":161},{"panel":"e","E":191.3,"v":0.000497,"lo":0.000001,"hi":0.000977,"xlo":186,"xhi":196},{"panel":"e","E":226,"v":0.000213,"lo":0.000001,"hi":0.000414,"xlo":221,"xhi":231},{"panel":"e","E":297,"v":0.0000356,"lo":0.000001,"hi":0.0000701,"xlo":292,"xhi":302}
]
},
"columns": 3,
"spacing": {"row": 38, "column": 67},
"bounds": "flush",
"align": "each",
"concat": [
{
"width": 387, "height": 379,
"layer": [
{"data": {"name": "points"}, "transform": [{"filter": "datum.panel == 'a'"}], "mark": {"type": "rule", "clip": true, "strokeWidth": 1.8, "color": "black"}, "encoding": {"x": {"field": "E", "type": "quantitative"}, "y": {"field": "lo", "type": "quantitative"}, "y2": {"field": "hi"}}},
{"data": {"name": "points"}, "transform": [{"filter": "datum.panel == 'a'"}], "mark": {"type": "rule", "clip": true, "strokeWidth": 1.8, "color": "black"}, "encoding": {"x": {"field": "xlo", "type": "quantitative"}, "x2": {"field": "xhi"}, "y": {"field": "v", "type": "quantitative"}}},
{"data": {"name": "points"}, "transform": [{"filter": "datum.panel == 'a'"}], "mark": {"type": "point", "shape": "circle", "fill": "white", "stroke": "black", "strokeWidth": 1.5, "size": 22, "opacity": 1, "clip": true}, "encoding": {"x": {"field": "E", "type": "quantitative"}, "y": {"field": "v", "type": "quantitative"}}},
{"data": {"name": "curves"}, "transform": [{"filter": "datum.panel == 'a'"}], "mark": {"type": "line", "clip": true, "strokeWidth": 3.3},
 "encoding": {
  "x": {"field": "E", "type": "quantitative", "scale": {"domain": [0, 900], "nice": false}, "axis": {"title": null, "values": [0,50,100,150,200,250,300,350,400,450,500,550,600,650,700,750,800,850,900], "labelExpr": "datum.value % 200 == 0 ? datum.label : ''", "tickSize": 4, "labelFontSize": 30, "labelPadding": -4, "labelFlush": false, "labelOverlap": false}},
  "y": {"field": "v", "type": "quantitative", "scale": {"type": "log", "domain": [0.000017, 35.5], "nice": false}, "axis": {"title": "d²σ/dΩ dE [mb/sr MeV]", "titleX": -112, "titleY": 458, "titleAngle": 270, "titleAlign": "center", "titleBaseline": "middle", "titleFontSize": 33, "values": [0.00002,0.00003,0.00004,0.00005,0.00006,0.00007,0.00008,0.00009,0.0001,0.0002,0.0003,0.0004,0.0005,0.0006,0.0007,0.0008,0.0009,0.001,0.002,0.003,0.004,0.005,0.006,0.007,0.008,0.009,0.01,0.02,0.03,0.04,0.05,0.06,0.07,0.08,0.09,0.1,0.2,0.3,0.4,0.5,0.6,0.7,0.8,0.9,1,2,3,4,5,6,7,8,9,10], "labelExpr": "abs(log(datum.value)/LN10 - round(log(datum.value)/LN10)) > 0.001 ? '' : round(log(datum.value)/LN10) == 1 ? '10' : round(log(datum.value)/LN10) == 0 ? '1' : round(log(datum.value)/LN10) == -1 ? '10⁻¹' : round(log(datum.value)/LN10) == -2 ? '10⁻²' : round(log(datum.value)/LN10) == -3 ? '10⁻³' : '10⁻⁴'", "tickSize": {"condition": {"test": "abs(log(datum.value)/LN10 - round(log(datum.value)/LN10)) < 0.001", "value": 7}, "value": 4}, "labelFontSize": 30, "labelPadding": 1, "labelOverlap": false, "labelFlush": false}},
  "color": {"field": "model", "type": "nominal", "scale": {"domain": ["INCL++ (acc. projectile)", "(acc. projectile)", "INCL++ (acc. target)", "(acc. target)", "INCL++ (symmetrized)", "(symmetrized)", "QMD", "Binary Cascade"], "range": ["#ff0000", "rgba(0,0,0,0)", "#ff0000", "rgba(0,0,0,0)", "#00ffff", "rgba(0,0,0,0)", "#0000ff", "#00c800"]}, "legend": {"orient": "none", "legendX": 821, "legendY": 407, "title": null, "padding": 0, "labelExpr": "indexof(datum.label, 'INCL++') == 0 ? 'INCL++' : datum.label", "labelFont": "Liberation Sans", "labelFontWeight": "bold", "labelFontSize": 37, "labelColor": "black", "labelLimit": 500, "symbolType": "stroke", "symbolSize": 5184, "symbolStrokeWidth": 3.5, "rowPadding": 2, "labelOffset": 12}},
  "strokeDash": {"field": "model", "type": "nominal", "scale": {"domain": ["INCL++ (acc. projectile)", "(acc. projectile)", "INCL++ (acc. target)", "(acc. target)", "INCL++ (symmetrized)", "(symmetrized)", "QMD", "Binary Cascade"], "range": [[1,0],[1,0],[8,5],[1,0],[1,0],[1,0],[1,0],[1,0]]}}
 }},
{"data": {"values": [{"label": "(a)"}]}, "mark": {"type": "text", "align": "right", "baseline": "alphabetic", "font": "Liberation Sans", "fontSize": 35, "color": "black"}, "encoding": {"text": {"field": "label"}, "x": {"datum": 857}, "y": {"datum": 7.0}}}
]
},
{
"width": 348, "height": 379,
"layer": [
{"data": {"name": "points"}, "transform": [{"filter": "datum.panel == 'b'"}], "mark": {"type": "rule", "clip": true, "strokeWidth": 1.8, "color": "black"}, "encoding": {"x": {"field": "E", "type": "quantitative"}, "y": {"field": "lo", "type": "quantitative"}, "y2": {"field": "hi"}}},
{"data": {"name": "points"}, "transform": [{"filter": "datum.panel == 'b'"}], "mark": {"type": "rule", "clip": true, "strokeWidth": 1.8, "color": "black"}, "encoding": {"x": {"field": "xlo", "type": "quantitative"}, "x2": {"field": "xhi"}, "y": {"field": "v", "type": "quantitative"}}},
{"data": {"name": "points"}, "transform": [{"filter": "datum.panel == 'b'"}], "mark": {"type": "point", "shape": "circle", "fill": "white", "stroke": "black", "strokeWidth": 1.5, "size": 22, "opacity": 1, "clip": true}, "encoding": {"x": {"field": "E", "type": "quantitative"}, "y": {"field": "v", "type": "quantitative"}}},
{"data": {"name": "curves"}, "transform": [{"filter": "datum.panel == 'b'"}], "mark": {"type": "line", "clip": true, "strokeWidth": 3.3},
 "encoding": {
  "x": {"field": "E", "type": "quantitative", "scale": {"domain": [0, 900], "nice": false}, "axis": {"title": null, "values": [0,50,100,150,200,250,300,350,400,450,500,550,600,650,700,750,800,850,900], "labelExpr": "datum.value % 200 == 0 ? datum.label : ''", "tickSize": 4, "labelFontSize": 30, "labelPadding": -4, "labelFlush": false, "labelOverlap": false}},
  "y": {"field": "v", "type": "quantitative", "scale": {"type": "log", "domain": [0.000017, 35.5], "nice": false}, "axis": {"title": null, "values": [0.00002,0.00003,0.00004,0.00005,0.00006,0.00007,0.00008,0.00009,0.0001,0.0002,0.0003,0.0004,0.0005,0.0006,0.0007,0.0008,0.0009,0.001,0.002,0.003,0.004,0.005,0.006,0.007,0.008,0.009,0.01,0.02,0.03,0.04,0.05,0.06,0.07,0.08,0.09,0.1,0.2,0.3,0.4,0.5,0.6,0.7,0.8,0.9,1,2,3,4,5,6,7,8,9,10], "labelExpr": "abs(log(datum.value)/LN10 - round(log(datum.value)/LN10)) > 0.001 ? '' : round(log(datum.value)/LN10) == 1 ? '10' : round(log(datum.value)/LN10) == 0 ? '1' : round(log(datum.value)/LN10) == -1 ? '10⁻¹' : round(log(datum.value)/LN10) == -2 ? '10⁻²' : round(log(datum.value)/LN10) == -3 ? '10⁻³' : '10⁻⁴'", "tickSize": {"condition": {"test": "abs(log(datum.value)/LN10 - round(log(datum.value)/LN10)) < 0.001", "value": 7}, "value": 4}, "labelFontSize": 30, "labelPadding": 1, "labelOverlap": false, "labelFlush": false}},
  "color": {"field": "model", "type": "nominal", "scale": {"domain": ["INCL++ (acc. projectile)", "(acc. projectile)", "INCL++ (acc. target)", "(acc. target)", "INCL++ (symmetrized)", "(symmetrized)", "QMD", "Binary Cascade"], "range": ["#ff0000", "rgba(0,0,0,0)", "#ff0000", "rgba(0,0,0,0)", "#00ffff", "rgba(0,0,0,0)", "#0000ff", "#00c800"]}},
  "strokeDash": {"field": "model", "type": "nominal", "scale": {"domain": ["INCL++ (acc. projectile)", "(acc. projectile)", "INCL++ (acc. target)", "(acc. target)", "INCL++ (symmetrized)", "(symmetrized)", "QMD", "Binary Cascade"], "range": [[1,0],[1,0],[8,5],[1,0],[1,0],[1,0],[1,0],[1,0]]}}
 }},
{"data": {"values": [{"label": "(b)"}]}, "mark": {"type": "text", "align": "right", "baseline": "alphabetic", "font": "Liberation Sans", "fontSize": 35, "color": "black"}, "encoding": {"text": {"field": "label"}, "x": {"datum": 857}, "y": {"datum": 7.0}}}
]
},
{
"width": 348, "height": 379,
"layer": [
{"data": {"name": "points"}, "transform": [{"filter": "datum.panel == 'c'"}], "mark": {"type": "rule", "clip": true, "strokeWidth": 1.8, "color": "black"}, "encoding": {"x": {"field": "E", "type": "quantitative"}, "y": {"field": "lo", "type": "quantitative"}, "y2": {"field": "hi"}}},
{"data": {"name": "points"}, "transform": [{"filter": "datum.panel == 'c'"}], "mark": {"type": "rule", "clip": true, "strokeWidth": 1.8, "color": "black"}, "encoding": {"x": {"field": "xlo", "type": "quantitative"}, "x2": {"field": "xhi"}, "y": {"field": "v", "type": "quantitative"}}},
{"data": {"name": "points"}, "transform": [{"filter": "datum.panel == 'c'"}], "mark": {"type": "point", "shape": "circle", "fill": "white", "stroke": "black", "strokeWidth": 1.5, "size": 22, "opacity": 1, "clip": true}, "encoding": {"x": {"field": "E", "type": "quantitative"}, "y": {"field": "v", "type": "quantitative"}}},
{"data": {"name": "curves"}, "transform": [{"filter": "datum.panel == 'c'"}], "mark": {"type": "line", "clip": true, "strokeWidth": 3.3},
 "encoding": {
  "x": {"field": "E", "type": "quantitative", "scale": {"domain": [0, 900], "nice": false}, "axis": {"title": null, "values": [0,50,100,150,200,250,300,350,400,450,500,550,600,650,700,750,800,850,900], "labelExpr": "datum.value % 200 == 0 ? datum.label : ''", "tickSize": 4, "labelFontSize": 30, "labelPadding": -4, "labelFlush": false, "labelOverlap": false}},
  "y": {"field": "v", "type": "quantitative", "scale": {"type": "log", "domain": [0.000017, 35.5], "nice": false}, "axis": {"title": null, "values": [0.00002,0.00003,0.00004,0.00005,0.00006,0.00007,0.00008,0.00009,0.0001,0.0002,0.0003,0.0004,0.0005,0.0006,0.0007,0.0008,0.0009,0.001,0.002,0.003,0.004,0.005,0.006,0.007,0.008,0.009,0.01,0.02,0.03,0.04,0.05,0.06,0.07,0.08,0.09,0.1,0.2,0.3,0.4,0.5,0.6,0.7,0.8,0.9,1,2,3,4,5,6,7,8,9,10], "labelExpr": "abs(log(datum.value)/LN10 - round(log(datum.value)/LN10)) > 0.001 ? '' : round(log(datum.value)/LN10) == 1 ? '10' : round(log(datum.value)/LN10) == 0 ? '1' : round(log(datum.value)/LN10) == -1 ? '10⁻¹' : round(log(datum.value)/LN10) == -2 ? '10⁻²' : round(log(datum.value)/LN10) == -3 ? '10⁻³' : '10⁻⁴'", "tickSize": {"condition": {"test": "abs(log(datum.value)/LN10 - round(log(datum.value)/LN10)) < 0.001", "value": 7}, "value": 4}, "labelFontSize": 30, "labelPadding": 1, "labelOverlap": false, "labelFlush": false}},
  "color": {"field": "model", "type": "nominal", "scale": {"domain": ["INCL++ (acc. projectile)", "(acc. projectile)", "INCL++ (acc. target)", "(acc. target)", "INCL++ (symmetrized)", "(symmetrized)", "QMD", "Binary Cascade"], "range": ["#ff0000", "rgba(0,0,0,0)", "#ff0000", "rgba(0,0,0,0)", "#00ffff", "rgba(0,0,0,0)", "#0000ff", "#00c800"]}},
  "strokeDash": {"field": "model", "type": "nominal", "scale": {"domain": ["INCL++ (acc. projectile)", "(acc. projectile)", "INCL++ (acc. target)", "(acc. target)", "INCL++ (symmetrized)", "(symmetrized)", "QMD", "Binary Cascade"], "range": [[1,0],[1,0],[8,5],[1,0],[1,0],[1,0],[1,0],[1,0]]}}
 }},
{"data": {"values": [{"label": "(c)"}]}, "mark": {"type": "text", "align": "right", "baseline": "alphabetic", "font": "Liberation Sans", "fontSize": 35, "color": "black"}, "encoding": {"text": {"field": "label"}, "x": {"datum": 855}, "y": {"datum": 7.0}}}
]
},
{
"width": 387, "height": 425,
"layer": [
{"data": {"name": "points"}, "transform": [{"filter": "datum.panel == 'd'"}], "mark": {"type": "rule", "clip": true, "strokeWidth": 1.8, "color": "black"}, "encoding": {"x": {"field": "E", "type": "quantitative"}, "y": {"field": "lo", "type": "quantitative"}, "y2": {"field": "hi"}}},
{"data": {"name": "points"}, "transform": [{"filter": "datum.panel == 'd'"}], "mark": {"type": "rule", "clip": true, "strokeWidth": 1.8, "color": "black"}, "encoding": {"x": {"field": "xlo", "type": "quantitative"}, "x2": {"field": "xhi"}, "y": {"field": "v", "type": "quantitative"}}},
{"data": {"name": "points"}, "transform": [{"filter": "datum.panel == 'd'"}], "mark": {"type": "point", "shape": "circle", "fill": "white", "stroke": "black", "strokeWidth": 1.5, "size": 22, "opacity": 1, "clip": true}, "encoding": {"x": {"field": "E", "type": "quantitative"}, "y": {"field": "v", "type": "quantitative"}}},
{"data": {"name": "curves"}, "transform": [{"filter": "datum.panel == 'd'"}], "mark": {"type": "line", "clip": true, "strokeWidth": 3.3},
 "encoding": {
  "x": {"field": "E", "type": "quantitative", "scale": {"domain": [0, 900], "nice": false}, "axis": {"title": null, "values": [0,50,100,150,200,250,300,350,400,450,500,550,600,650,700,750,800,850,900], "labelExpr": "datum.value % 200 == 0 ? datum.label : ''", "tickSize": 4, "labelFontSize": 31, "labelPadding": -2, "labelFlush": false, "labelOverlap": false}},
  "y": {"field": "v", "type": "quantitative", "scale": {"type": "log", "domain": [0.000017, 35.5], "nice": false}, "axis": {"title": null, "values": [0.00002,0.00003,0.00004,0.00005,0.00006,0.00007,0.00008,0.00009,0.0001,0.0002,0.0003,0.0004,0.0005,0.0006,0.0007,0.0008,0.0009,0.001,0.002,0.003,0.004,0.005,0.006,0.007,0.008,0.009,0.01,0.02,0.03,0.04,0.05,0.06,0.07,0.08,0.09,0.1,0.2,0.3,0.4,0.5,0.6,0.7,0.8,0.9,1,2,3,4,5,6,7,8,9,10], "labelExpr": "abs(log(datum.value)/LN10 - round(log(datum.value)/LN10)) > 0.001 ? '' : round(log(datum.value)/LN10) == 1 ? '10' : round(log(datum.value)/LN10) == 0 ? '1' : round(log(datum.value)/LN10) == -1 ? '10⁻¹' : round(log(datum.value)/LN10) == -2 ? '10⁻²' : round(log(datum.value)/LN10) == -3 ? '10⁻³' : '10⁻⁴'", "tickSize": {"condition": {"test": "abs(log(datum.value)/LN10 - round(log(datum.value)/LN10)) < 0.001", "value": 7}, "value": 4}, "labelFontSize": 31, "labelPadding": 1, "labelOverlap": false, "labelFlush": false}},
  "color": {"field": "model", "type": "nominal", "scale": {"domain": ["INCL++ (acc. projectile)", "(acc. projectile)", "INCL++ (acc. target)", "(acc. target)", "INCL++ (symmetrized)", "(symmetrized)", "QMD", "Binary Cascade"], "range": ["#ff0000", "rgba(0,0,0,0)", "#ff0000", "rgba(0,0,0,0)", "#00ffff", "rgba(0,0,0,0)", "#0000ff", "#00c800"]}},
  "strokeDash": {"field": "model", "type": "nominal", "scale": {"domain": ["INCL++ (acc. projectile)", "(acc. projectile)", "INCL++ (acc. target)", "(acc. target)", "INCL++ (symmetrized)", "(symmetrized)", "QMD", "Binary Cascade"], "range": [[1,0],[1,0],[8,5],[1,0],[1,0],[1,0],[1,0],[1,0]]}}
 }},
{"data": {"values": [{"label": "(d)"}]}, "mark": {"type": "text", "align": "right", "baseline": "alphabetic", "font": "Liberation Sans", "fontSize": 39, "color": "black"}, "encoding": {"text": {"field": "label"}, "x": {"datum": 857}, "y": {"datum": 7.7}}}
]
},
{
"width": 348, "height": 425,
"layer": [
{"data": {"name": "points"}, "transform": [{"filter": "datum.panel == 'e'"}], "mark": {"type": "rule", "clip": true, "strokeWidth": 1.8, "color": "black"}, "encoding": {"x": {"field": "E", "type": "quantitative"}, "y": {"field": "lo", "type": "quantitative"}, "y2": {"field": "hi"}}},
{"data": {"name": "points"}, "transform": [{"filter": "datum.panel == 'e'"}], "mark": {"type": "rule", "clip": true, "strokeWidth": 1.8, "color": "black"}, "encoding": {"x": {"field": "xlo", "type": "quantitative"}, "x2": {"field": "xhi"}, "y": {"field": "v", "type": "quantitative"}}},
{"data": {"name": "points"}, "transform": [{"filter": "datum.panel == 'e'"}], "mark": {"type": "point", "shape": "circle", "fill": "white", "stroke": "black", "strokeWidth": 1.5, "size": 22, "opacity": 1, "clip": true}, "encoding": {"x": {"field": "E", "type": "quantitative"}, "y": {"field": "v", "type": "quantitative"}}},
{"data": {"name": "curves"}, "transform": [{"filter": "datum.panel == 'e'"}], "mark": {"type": "line", "clip": true, "strokeWidth": 3.3},
 "encoding": {
  "x": {"field": "E", "type": "quantitative", "scale": {"domain": [0, 900], "nice": false}, "axis": {"title": "energy [MeV]", "titleX": 96, "titleY": 67, "titleAlign": "center", "titleBaseline": "alphabetic", "titleFontSize": 33, "values": [0,50,100,150,200,250,300,350,400,450,500,550,600,650,700,750,800,850,900], "labelExpr": "datum.value % 200 == 0 ? datum.label : ''", "tickSize": 4, "labelFontSize": 31, "labelPadding": -2, "labelFlush": false, "labelOverlap": false}},
  "y": {"field": "v", "type": "quantitative", "scale": {"type": "log", "domain": [0.000017, 35.5], "nice": false}, "axis": {"title": null, "values": [0.00002,0.00003,0.00004,0.00005,0.00006,0.00007,0.00008,0.00009,0.0001,0.0002,0.0003,0.0004,0.0005,0.0006,0.0007,0.0008,0.0009,0.001,0.002,0.003,0.004,0.005,0.006,0.007,0.008,0.009,0.01,0.02,0.03,0.04,0.05,0.06,0.07,0.08,0.09,0.1,0.2,0.3,0.4,0.5,0.6,0.7,0.8,0.9,1,2,3,4,5,6,7,8,9,10], "labelExpr": "abs(log(datum.value)/LN10 - round(log(datum.value)/LN10)) > 0.001 ? '' : round(log(datum.value)/LN10) == 1 ? '10' : round(log(datum.value)/LN10) == 0 ? '1' : round(log(datum.value)/LN10) == -1 ? '10⁻¹' : round(log(datum.value)/LN10) == -2 ? '10⁻²' : round(log(datum.value)/LN10) == -3 ? '10⁻³' : '10⁻⁴'", "tickSize": {"condition": {"test": "abs(log(datum.value)/LN10 - round(log(datum.value)/LN10)) < 0.001", "value": 7}, "value": 4}, "labelFontSize": 31, "labelPadding": 1, "labelOverlap": false, "labelFlush": false}},
  "color": {"field": "model", "type": "nominal", "scale": {"domain": ["INCL++ (acc. projectile)", "(acc. projectile)", "INCL++ (acc. target)", "(acc. target)", "INCL++ (symmetrized)", "(symmetrized)", "QMD", "Binary Cascade"], "range": ["#ff0000", "rgba(0,0,0,0)", "#ff0000", "rgba(0,0,0,0)", "#00ffff", "rgba(0,0,0,0)", "#0000ff", "#00c800"]}},
  "strokeDash": {"field": "model", "type": "nominal", "scale": {"domain": ["INCL++ (acc. projectile)", "(acc. projectile)", "INCL++ (acc. target)", "(acc. target)", "INCL++ (symmetrized)", "(symmetrized)", "QMD", "Binary Cascade"], "range": [[1,0],[1,0],[8,5],[1,0],[1,0],[1,0],[1,0],[1,0]]}}
 }},
{"data": {"values": [{"label": "(e)"}]}, "mark": {"type": "text", "align": "right", "baseline": "alphabetic", "font": "Liberation Sans", "fontSize": 39, "color": "black"}, "encoding": {"text": {"field": "label"}, "x": {"datum": 857}, "y": {"datum": 7.7}}}
]
}
],
"config": {
 "view": {"stroke": "black", "strokeWidth": 2},
 "axis": {"grid": false, "domain": false, "labelFont": "Liberation Sans", "labelFontWeight": "bold", "labelColor": "black", "tickColor": "black", "tickWidth": 1.5, "titleFont": "Liberation Sans", "titleFontWeight": "normal", "titleColor": "black"}
}
}
